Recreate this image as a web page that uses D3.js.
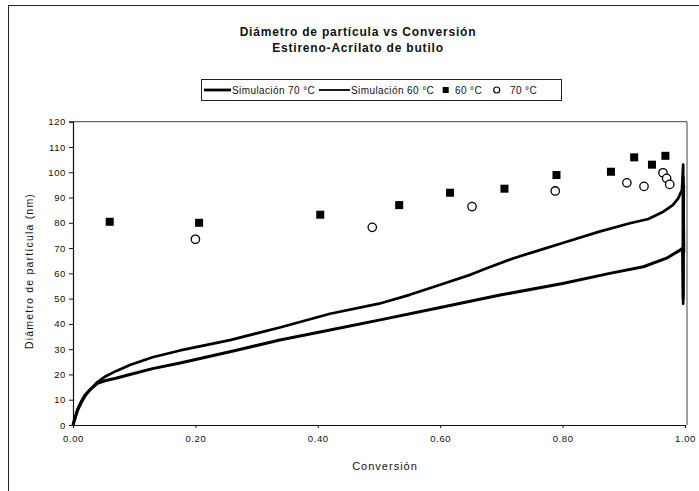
<!DOCTYPE html>
<html>
<head>
<meta charset="utf-8">
<script src="https://cdn.jsdelivr.net/npm/d3@7"></script>
<style>
  html, body { margin: 0; padding: 0; background: #fff; }
  svg { display: block; font-family: "Liberation Sans", Arial, sans-serif; }
</style>
</head>
<body>
<svg id="chart" width="699" height="491"></svg>
<script>
// ---- Data ----
const titleLines = ["Diámetro de partícula vs Conversión", "Estireno-Acrilato de butilo"];
const xTitle = "Conversión";
const yTitle = "Diámetro de partícula (nm)";
const legendLabels = ["Simulación 70 °C", "Simulación 60 °C", "60 °C", "70 °C"];

const xTicks = [0, 0.2, 0.4, 0.6, 0.8, 1.0];
const yTicks = [0, 10, 20, 30, 40, 50, 60, 70, 80, 90, 100, 110, 120];

// Experimental 60 °C (filled squares)
const exp60Conv = [0.060, 0.206, 0.404, 0.533, 0.616, 0.705, 0.790, 0.879, 0.917, 0.946, 0.968];
const exp60Diam = [80.4, 80.0, 83.2, 87.0, 91.9, 93.5, 98.9, 100.2, 105.9, 103.0, 106.5];

// Experimental 70 °C (open circles)
const exp70Conv = [0.200, 0.489, 0.652, 0.788, 0.905, 0.933, 0.964, 0.970, 0.975];
const exp70Diam = [73.5, 78.2, 86.4, 92.6, 95.8, 94.4, 99.8, 97.6, 95.2];

// Simulation 60 °C (upper curve)
const sim60Conv = [0, 0.004, 0.008, 0.014, 0.02, 0.028, 0.04, 0.052, 0.07, 0.093, 0.13, 0.175, 0.2565, 0.338, 0.42, 0.5, 0.55, 0.6, 0.65, 0.676, 0.72, 0.76, 0.8, 0.86, 0.91, 0.94, 0.9645, 0.98, 0.989, 0.995, 0.997, 0.997, 0.998];
const sim60Diam = [0, 3, 6, 9, 11.5, 14, 17, 19.1, 21.3, 23.7, 26.8, 29.5, 33.6, 38.6, 44, 48, 51.5, 55.5, 59.5, 62, 66, 69, 72, 76.5, 79.8, 81.5, 84.4, 87, 89.7, 93, 103, 48, 95];

// Simulation 70 °C (lower curve)
const sim70Conv = [0, 0.004, 0.008, 0.014, 0.02, 0.028, 0.04, 0.052, 0.07, 0.093, 0.13, 0.175, 0.2565, 0.338, 0.42, 0.5, 0.6, 0.7, 0.8, 0.877, 0.932, 0.97, 0.992, 0.996, 0.997, 0.997, 0.998];
const sim70Diam = [0, 3.5, 6.5, 9.5, 12, 14, 16.5, 17.5, 18.5, 20, 22.3, 24.5, 29, 33.6, 37.6, 41.5, 46.5, 51.5, 56, 60, 62.6, 66, 69.2, 70, 50, 98, 68];

// ---- Layout ----
const svg = d3.select("#chart");
const plot = { left: 73, right: 685, top: 121.7, bottom: 425 };

const x = d3.scaleLinear().domain([0, 1]).range([plot.left, plot.right]);
const y = d3.scaleLinear().domain([0, 120]).range([plot.bottom, plot.top]);

// outer chart frame
svg.append("rect")
  .attr("x", 8.5).attr("y", 5.5).attr("width", 720).attr("height", 500)
  .attr("fill", "none").attr("stroke", "#222").attr("stroke-width", 1);

// plot frame (top + right)
svg.append("path")
  .attr("d", `M${plot.left},${plot.top}H${plot.right + 2}V${plot.bottom}`)
  .attr("fill", "none").attr("stroke", "#444").attr("stroke-width", 1);

// title
svg.append("g").selectAll("text").data(titleLines).join("text")
  .attr("x", 358).attr("y", (d, i) => 35.5 + i * 16.6)
  .attr("text-anchor", "middle")
  .attr("font-size", 12).attr("font-weight", "bold")
  .attr("letter-spacing", 0.8)
  .attr("fill", "#111")
  .text(d => d);

// axes
const yAxis = d3.axisLeft(y).tickValues(yTicks).tickSize(4).tickPadding(3).tickFormat(d3.format("d"));
const gy = svg.append("g").attr("transform", `translate(${plot.left},0)`).call(yAxis);
const xAxis = d3.axisBottom(x).tickValues(xTicks).tickSize(3).tickPadding(7).tickFormat(d3.format(".2f"));
const gx = svg.append("g").attr("transform", `translate(0,${plot.bottom})`).call(xAxis);

[gx, gy].forEach(g => {
  g.select(".domain").attr("stroke", "#111").attr("stroke-width", 1.2);
  g.selectAll(".tick line").attr("stroke", "#111");
  g.selectAll(".tick text")
    .attr("font-family", "Liberation Sans, Arial, sans-serif")
    .attr("font-size", 9.5).attr("letter-spacing", 0.6).attr("fill", "#111");
});

// axis titles
svg.append("text")
  .attr("x", 385).attr("y", 470)
  .attr("text-anchor", "middle")
  .attr("font-size", 11).attr("letter-spacing", 1.0).attr("fill", "#111")
  .text(xTitle);

svg.append("text")
  .attr("transform", `translate(33,271) rotate(-90)`)
  .attr("text-anchor", "middle")
  .attr("font-size", 10.5).attr("letter-spacing", 1.2).attr("fill", "#111")
  .text(yTitle);

// simulation curves
const line = d3.line().x(d => x(d[0])).y(d => y(d[1]));
const sim60 = sim60Conv.map((c, i) => [c, sim60Diam[i]]);
const sim70 = sim70Conv.map((c, i) => [c, sim70Diam[i]]);

svg.append("path").datum(sim60).attr("d", line)
  .attr("fill", "none").attr("stroke", "#000").attr("stroke-width", 2.7)
  .attr("stroke-linejoin", "round");
svg.append("path").datum(sim70).attr("d", line)
  .attr("fill", "none").attr("stroke", "#000").attr("stroke-width", 3)
  .attr("stroke-linejoin", "round");

// experimental points
const sq = 8;
svg.append("g").selectAll("rect")
  .data(exp60Conv.map((c, i) => [c, exp60Diam[i]])).join("rect")
  .attr("x", d => x(d[0]) - sq / 2).attr("y", d => y(d[1]) - sq / 2)
  .attr("width", sq).attr("height", sq).attr("fill", "#000");

svg.append("g").selectAll("circle")
  .data(exp70Conv.map((c, i) => [c, exp70Diam[i]])).join("circle")
  .attr("cx", d => x(d[0])).attr("cy", d => y(d[1])).attr("r", 4.2)
  .attr("fill", "#fff").attr("stroke", "#000").attr("stroke-width", 1.3);

// legend
const lg = svg.append("g");
lg.append("rect").attr("x", 201.5).attr("y", 79.5).attr("width", 360).attr("height", 21)
  .attr("fill", "#fff").attr("stroke", "#222").attr("stroke-width", 1);
const ly = 90;
lg.append("line").attr("x1", 204).attr("x2", 231).attr("y1", ly).attr("y2", ly)
  .attr("stroke", "#000").attr("stroke-width", 2.8);
lg.append("line").attr("x1", 319).attr("x2", 350).attr("y1", ly).attr("y2", ly)
  .attr("stroke", "#000").attr("stroke-width", 1.8);
lg.append("rect").attr("x", 445.7 - 3).attr("y", ly - 3).attr("width", 6).attr("height", 6).attr("fill", "#000");
lg.append("circle").attr("cx", 496.7).attr("cy", ly).attr("r", 3)
  .attr("fill", "#fff").attr("stroke", "#000").attr("stroke-width", 1.2);
const legendX = [232, 351, 455, 510];
lg.selectAll("text.lbl").data(legendLabels).join("text")
  .attr("class", "lbl")
  .attr("x", (d, i) => legendX[i]).attr("y", ly + 3.5)
  .attr("font-size", 10).attr("letter-spacing", 0.4).attr("fill", "#111")
  .text(d => d);
</script>
</body>
</html>
